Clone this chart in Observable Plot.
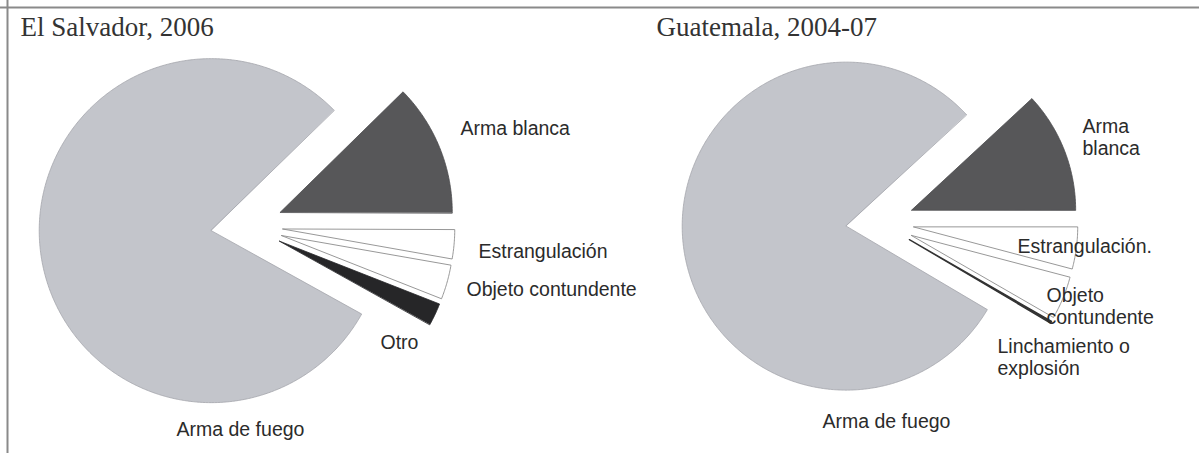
<!DOCTYPE html>
<html>
<head>
<meta charset="utf-8">
<script src="https://cdn.jsdelivr.net/npm/d3@7"></script>
<script src="https://cdn.jsdelivr.net/npm/@observablehq/plot@0.6"></script>
<style>
  html, body { margin: 0; padding: 0; background: #ffffff; }
  #chart svg { display: block; }
</style>
</head>
<body>
<div id="chart"></div>
<script>
// ---------------- DATA ----------------
const svTitle = "El Salvador, 2006";
const svCategories = ["Arma de fuego", "Arma blanca", "Estrangulación", "Objeto contundente", "Otro"];
const svValues = [79.6, 12.4, 2.7, 3.2, 2.1];
const svLabels = ["Arma de fuego", "Arma blanca", "Estrangulación", "Objeto contundente", "Otro"];

const gtTitle = "Guatemala, 2004-07";
const gtCategories = ["Arma de fuego", "Arma blanca", "Estrangulación", "Objeto contundente", "Linchamiento o explosión"];
const gtValues = [79.6, 11.9, 4.1, 4.2, 0.2];
const gtLabels = ["Arma de fuego", "Arma\nblanca", "Estrangulación.", "Objeto\ncontundente", "Linchamiento o\nexplosión"];

// ---------------- LAYOUT / STYLE ----------------
const W = 1199, H = 453;
const LAYOUT = {
  sv: { cx: 246.4, cy: 225.3, r: 172, explode: 36, start: 119,
        title: [20, 26.5],
        labels: [[176, 428], [460, 127], [478, 250], [466, 288], [380, 341]] },
  gt: { cx: 879.5, cy: 222, r: 164, explode: 34, start: 120.6,
        title: [656, 26.5],
        labels: [[822, 420], [1082, 136], [1017, 245], [1046, 305], [997, 356]] }
};
const STYLE = {
  "Arma de fuego": { fill: "#c3c5cb", stroke: "#a3a5ab", strokeWidth: 0.8 },
  "Arma blanca": { fill: "#575759", stroke: "#4a4a4c", strokeWidth: 0.8 },
  "Estrangulación": { fill: "#ffffff", stroke: "#8c8c8c", strokeWidth: 0.9 },
  "Objeto contundente": { fill: "#ffffff", stroke: "#8c8c8c", strokeWidth: 0.9 },
  "Otro": { fill: "#262628", stroke: "#262628", strokeWidth: 0.8 },
  "Linchamiento o explosión": { fill: "#333333", stroke: "#333333", strokeWidth: 1.3 }
};

function slicePolys(categories, values, L) {
  const s = L.start * Math.PI / 180;
  const arcs = d3.pie().sort(null).value(d => d).startAngle(s).endAngle(s + 2 * Math.PI)(values);
  return arcs.map((a, i) => {
    const mid = (a.startAngle + a.endAngle) / 2;
    const ax = L.cx + L.explode * Math.sin(mid);
    const ay = L.cy - L.explode * Math.cos(mid);
    const pts = [{ x: ax, y: ay }];
    const n = Math.max(2, Math.ceil((a.endAngle - a.startAngle) / (Math.PI / 360)));
    for (let k = 0; k <= n; k++) {
      const t = a.startAngle + (a.endAngle - a.startAngle) * k / n;
      pts.push({ x: ax + L.r * Math.sin(t), y: ay - L.r * Math.cos(t) });
    }
    return { category: categories[i], pts };
  });
}

function pieMarks(categories, values, labels, title, L) {
  const marks = slicePolys(categories, values, L).map(p =>
    Plot.line(p.pts, { x: "x", y: "y", curve: "linear-closed", ...STYLE[p.category] })
  );
  const labelData = labels.map((t, i) => ({ text: t, x: L.labels[i][0], y: L.labels[i][1] }));
  marks.push(Plot.text(labelData, {
    x: "x", y: "y", text: "text", textAnchor: "start", lineHeight: 1.13,
    fontFamily: "Liberation Sans", fontSize: 19.5, fill: "#2b2b2b"
  }));
  marks.push(Plot.text([title], {
    x: () => L.title[0], y: () => L.title[1], text: d => d, textAnchor: "start",
    fontFamily: "Liberation Serif", fontSize: 27, fill: "#333333"
  }));
  return marks;
}

const chart = Plot.plot({
  width: W, height: H, margin: 0,
  x: { domain: [0, W], range: [0, W], axis: null },
  y: { domain: [0, H], range: [0, H], axis: null },
  style: { background: "#ffffff" },
  marks: [
    Plot.ruleY([7], { stroke: "#8a8a8a", strokeWidth: 2 }),
    Plot.ruleX([7], { stroke: "#8a8a8a", strokeWidth: 2 }),
    ...pieMarks(svCategories, svValues, svLabels, svTitle, LAYOUT.sv),
    ...pieMarks(gtCategories, gtValues, gtLabels, gtTitle, LAYOUT.gt)
  ]
});
document.getElementById("chart").appendChild(chart);
</script>
</body>
</html>
